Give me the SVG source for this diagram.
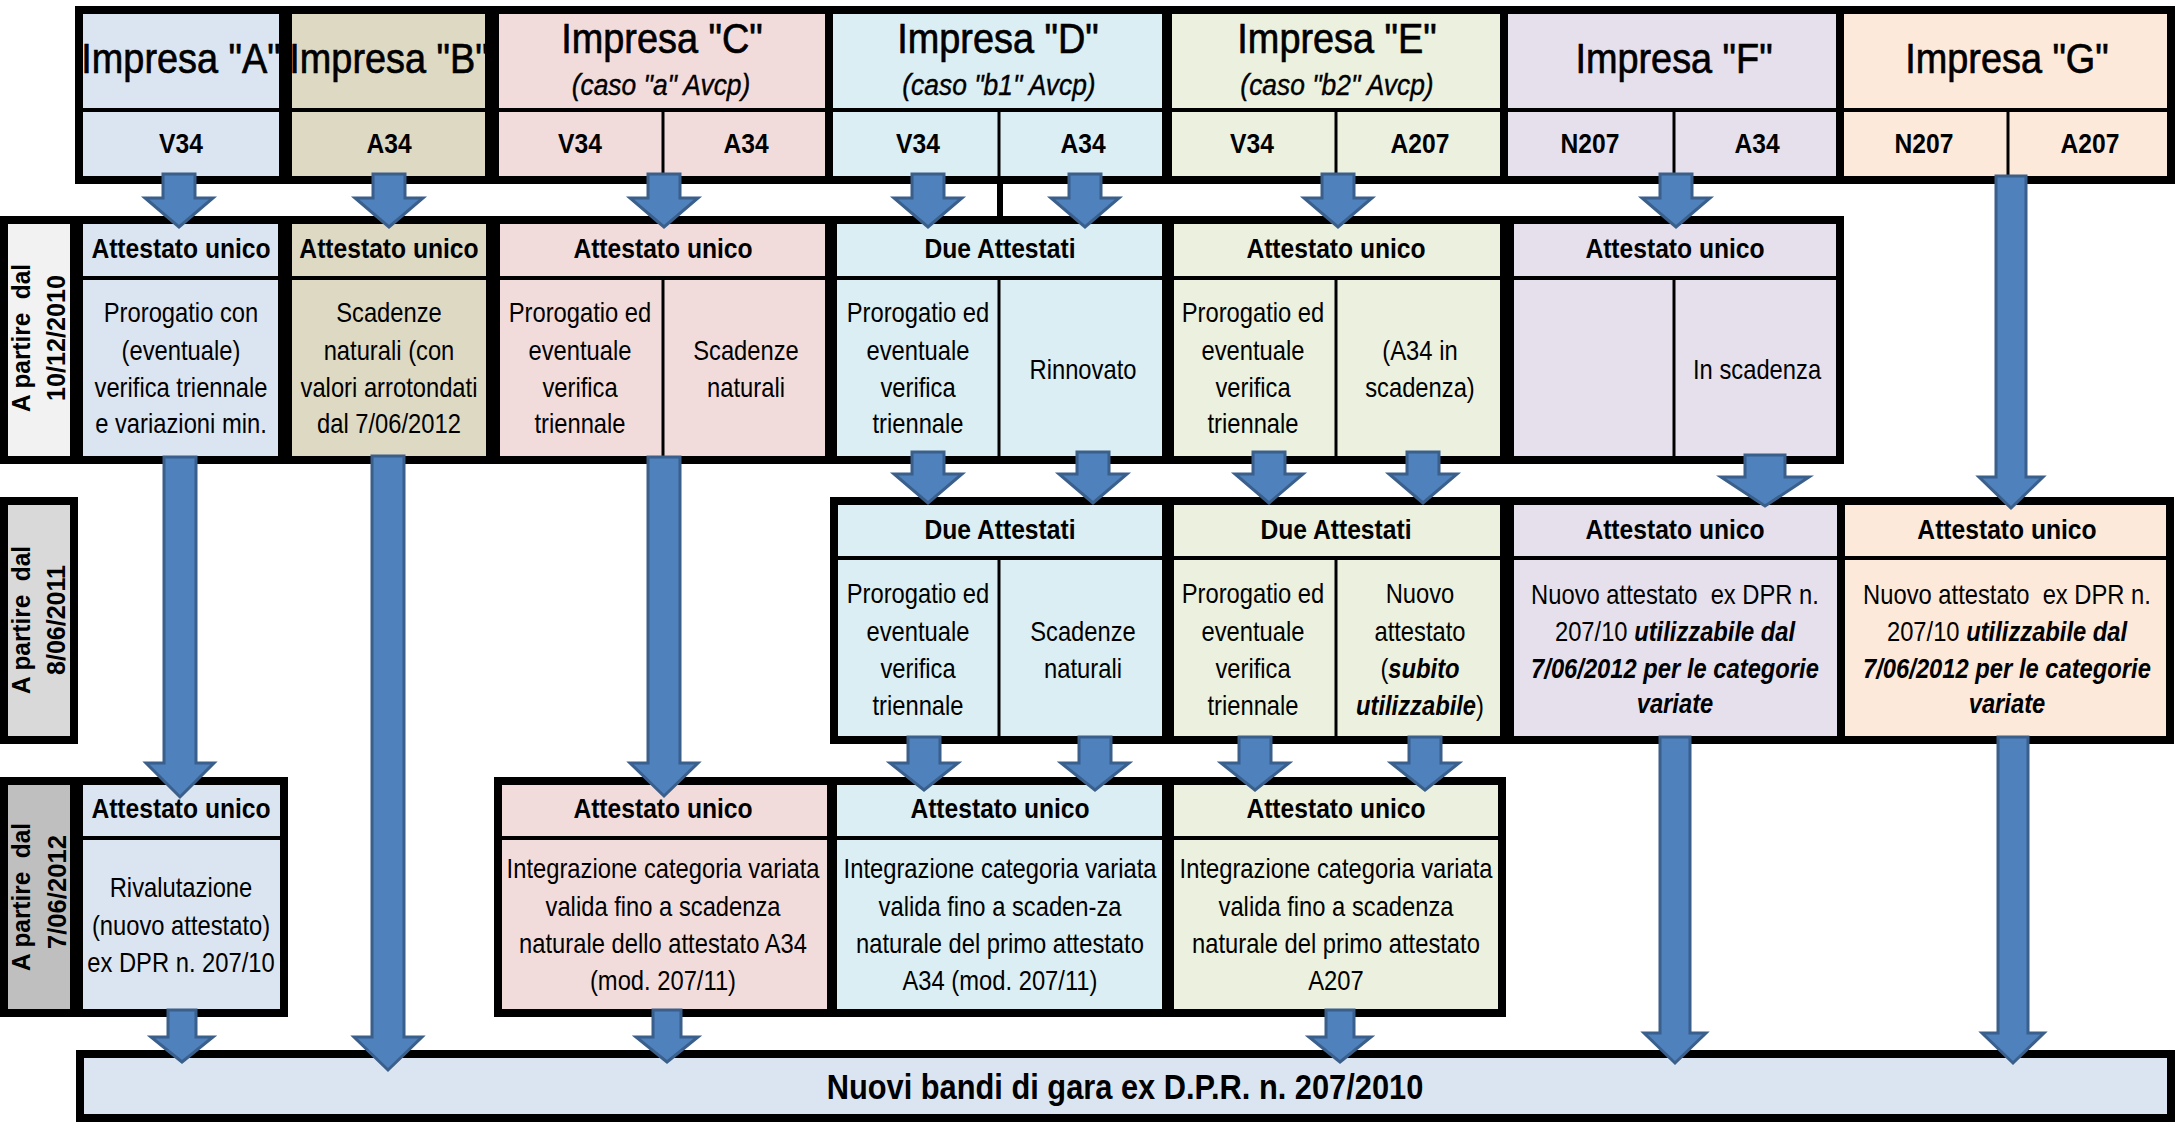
<svg xmlns="http://www.w3.org/2000/svg" width="2183" height="1122" viewBox="0 0 2183 1122">
<style>
.t{font-family:"Liberation Sans",Arial,sans-serif;fill:#000;text-anchor:middle;transform-box:fill-box;transform-origin:center;transform:scaleX(.88)}
.title{font-size:43px;stroke:#000;stroke-width:0.7}
.sub{font-size:30px;font-style:italic;stroke:#000;stroke-width:0.4}
.code{font-size:28px;font-weight:bold}
.hd{font-size:28px;font-weight:bold}
.bd{font-size:27px}
.bi{font-weight:bold;font-style:italic}
.lab{font-family:"Liberation Sans",Arial,sans-serif;font-size:26px;font-weight:bold;fill:#000;text-anchor:middle}
.box{stroke:#000;stroke-width:8}
.sep{stroke:#000;stroke-width:4}
.spl{stroke:#000;stroke-width:3}
.arr{fill:#4f81bd;stroke:#3a5f8b;stroke-width:3}
.cA{fill:#dbe5f1}.cB{fill:#ddd9c3}.cC{fill:#f2dcdb}.cD{fill:#daeef3}.cE{fill:#ebf1de}.cF{fill:#e5e0ec}.cG{fill:#fde9d9}
</style>
<rect width="2183" height="1122" fill="#fff"/>

<!-- Headers -->
<g id="impresa-a">
<rect x="79" y="10" width="204" height="170" class="box cA"/>
<line x1="79" y1="110" x2="283" y2="110" class="sep"/>
<text class="t title" x="181" y="73">Impresa "A"</text>
<text class="t code" x="181" y="153">V34</text>
</g>
<g id="impresa-b">
<rect x="288" y="10" width="201" height="170" class="box cB"/>
<line x1="288" y1="110" x2="489" y2="110" class="sep"/>
<text class="t title" x="389" y="73">Impresa "B"</text>
<text class="t code" x="389" y="153">A34</text>
</g>
<g id="impresa-c">
<rect x="495" y="10" width="334" height="170" class="box cC"/>
<line x1="495" y1="110" x2="829" y2="110" class="sep"/>
<line x1="663" y1="110" x2="663" y2="180" class="spl"/>
<text class="t title" x="662" y="53">Impresa "C"</text>
<text class="t sub" x="661" y="95">(caso "a" Avcp)</text>
<text class="t code" x="580" y="153">V34</text>
<text class="t code" x="746" y="153">A34</text>
</g>
<g id="impresa-d">
<rect x="829" y="10" width="337" height="170" class="box cD"/>
<line x1="829" y1="110" x2="1166" y2="110" class="sep"/>
<line x1="999" y1="110" x2="999" y2="180" class="spl"/>
<text class="t title" x="998" y="53">Impresa "D"</text>
<text class="t sub" x="999" y="95">(caso "b1" Avcp)</text>
<text class="t code" x="918" y="153">V34</text>
<text class="t code" x="1083" y="153">A34</text>
</g>
<g id="impresa-e">
<rect x="1168" y="10" width="336" height="170" class="box cE"/>
<line x1="1168" y1="110" x2="1504" y2="110" class="sep"/>
<line x1="1336" y1="110" x2="1336" y2="180" class="spl"/>
<text class="t title" x="1337" y="53">Impresa "E"</text>
<text class="t sub" x="1337" y="95">(caso "b2" Avcp)</text>
<text class="t code" x="1252" y="153">V34</text>
<text class="t code" x="1420" y="153">A207</text>
</g>
<g id="impresa-f">
<rect x="1504" y="10" width="336" height="170" class="box cF"/>
<line x1="1504" y1="110" x2="1840" y2="110" class="sep"/>
<line x1="1674" y1="110" x2="1674" y2="180" class="spl"/>
<text class="t title" x="1674" y="73">Impresa "F"</text>
<text class="t code" x="1590" y="153">N207</text>
<text class="t code" x="1757" y="153">A34</text>
</g>
<g id="impresa-g">
<rect x="1840" y="10" width="331" height="170" class="box cG"/>
<line x1="1840" y1="110" x2="2171" y2="110" class="sep"/>
<line x1="2008" y1="110" x2="2008" y2="180" class="spl"/>
<text class="t title" x="2007" y="73">Impresa "G"</text>
<text class="t code" x="1924" y="153">N207</text>
<text class="t code" x="2090" y="153">A207</text>
</g>

<!-- Row labels -->
<g id="label-2010">
<rect x="4" y="220" width="70" height="240" class="box" fill="#f2f2f2"/>
<text class="lab" transform="translate(30,338) rotate(-90)" textLength="148" lengthAdjust="spacingAndGlyphs" xml:space="preserve">A partire  dal</text>
<text class="lab" transform="translate(65,338) rotate(-90)" textLength="126" lengthAdjust="spacingAndGlyphs">10/12/2010</text>
</g>
<g id="label-2011">
<rect x="4" y="501" width="70" height="239" class="box" fill="#d9d9d9"/>
<text class="lab" transform="translate(30,620) rotate(-90)" textLength="148" lengthAdjust="spacingAndGlyphs" xml:space="preserve">A partire  dal</text>
<text class="lab" transform="translate(65,620) rotate(-90)" textLength="110" lengthAdjust="spacingAndGlyphs">8/06/2011</text>
</g>
<g id="label-2012">
<rect x="4" y="781" width="70" height="232" class="box" fill="#bfbfbf"/>
<text class="lab" transform="translate(30,897) rotate(-90)" textLength="148" lengthAdjust="spacingAndGlyphs" xml:space="preserve">A partire  dal</text>
<text class="lab" transform="translate(66,892) rotate(-90)" textLength="114" lengthAdjust="spacingAndGlyphs">7/06/2012</text>
</g>

<!-- Row 1 -->
<g id="a-2010">
<rect x="79" y="220" width="203" height="240" class="box cA"/>
<line x1="79" y1="278" x2="282" y2="278" class="sep"/>
<text class="t hd" x="181" y="258">Attestato unico</text>
<text class="t bd" x="181" y="322">Prorogatio con</text>
<text class="t bd" x="181" y="360">(eventuale)</text>
<text class="t bd" x="181" y="397">verifica triennale</text>
<text class="t bd" x="181" y="433">e variazioni min.</text>
</g>
<g id="b-2010">
<rect x="288" y="220" width="202" height="240" class="box cB"/>
<line x1="288" y1="278" x2="490" y2="278" class="sep"/>
<text class="t hd" x="389" y="258">Attestato unico</text>
<text class="t bd" x="389" y="322">Scadenze</text>
<text class="t bd" x="389" y="360">naturali (con</text>
<text class="t bd" x="389" y="397">valori arrotondati</text>
<text class="t bd" x="389" y="433">dal 7/06/2012</text>
</g>
<g id="c-2010">
<rect x="496" y="220" width="333" height="240" class="box cC"/>
<line x1="496" y1="278" x2="829" y2="278" class="sep"/>
<line x1="663" y1="278" x2="663" y2="460" class="spl"/>
<text class="t hd" x="663" y="258">Attestato unico</text>
<text class="t bd" x="580" y="322">Prorogatio ed</text>
<text class="t bd" x="580" y="360">eventuale</text>
<text class="t bd" x="580" y="397">verifica</text>
<text class="t bd" x="580" y="433">triennale</text>
<text class="t bd" x="746" y="360">Scadenze</text>
<text class="t bd" x="746" y="397">naturali</text>
</g>
<g id="d-2010">
<rect x="833" y="220" width="333" height="240" class="box cD"/>
<line x1="833" y1="278" x2="1166" y2="278" class="sep"/>
<line x1="999" y1="278" x2="999" y2="460" class="spl"/>
<text class="t hd" x="1000" y="258">Due Attestati</text>
<text class="t bd" x="918" y="322">Prorogatio ed</text>
<text class="t bd" x="918" y="360">eventuale</text>
<text class="t bd" x="918" y="397">verifica</text>
<text class="t bd" x="918" y="433">triennale</text>
<text class="t bd" x="1083" y="379">Rinnovato</text>
</g>
<g id="e-2010">
<rect x="1170" y="220" width="334" height="240" class="box cE"/>
<line x1="1170" y1="278" x2="1504" y2="278" class="sep"/>
<line x1="1336" y1="278" x2="1336" y2="460" class="spl"/>
<text class="t hd" x="1336" y="258">Attestato unico</text>
<text class="t bd" x="1253" y="322">Prorogatio ed</text>
<text class="t bd" x="1253" y="360">eventuale</text>
<text class="t bd" x="1253" y="397">verifica</text>
<text class="t bd" x="1253" y="433">triennale</text>
<text class="t bd" x="1420" y="360">(A34 in</text>
<text class="t bd" x="1420" y="397">scadenza)</text>
</g>
<g id="f-2010">
<rect x="1510" y="220" width="330" height="240" class="box cF"/>
<line x1="1510" y1="278" x2="1840" y2="278" class="sep"/>
<line x1="1674" y1="278" x2="1674" y2="460" class="spl"/>
<text class="t hd" x="1675" y="258">Attestato unico</text>
<text class="t bd" x="1757" y="379">In scadenza</text>
</g>

<!-- Row 2 -->
<g id="d-2011">
<rect x="834" y="501" width="332" height="239" class="box cD"/>
<line x1="834" y1="558" x2="1166" y2="558" class="sep"/>
<line x1="999" y1="558" x2="999" y2="740" class="spl"/>
<text class="t hd" x="1000" y="539">Due Attestati</text>
<text class="t bd" x="918" y="603">Prorogatio ed</text>
<text class="t bd" x="918" y="641">eventuale</text>
<text class="t bd" x="918" y="678">verifica</text>
<text class="t bd" x="918" y="715">triennale</text>
<text class="t bd" x="1083" y="641">Scadenze</text>
<text class="t bd" x="1083" y="678">naturali</text>
</g>
<g id="e-2011">
<rect x="1170" y="501" width="334" height="239" class="box cE"/>
<line x1="1170" y1="558" x2="1504" y2="558" class="sep"/>
<line x1="1336" y1="558" x2="1336" y2="740" class="spl"/>
<text class="t hd" x="1336" y="539">Due Attestati</text>
<text class="t bd" x="1253" y="603">Prorogatio ed</text>
<text class="t bd" x="1253" y="641">eventuale</text>
<text class="t bd" x="1253" y="678">verifica</text>
<text class="t bd" x="1253" y="715">triennale</text>
<text class="t bd" x="1420" y="603">Nuovo</text>
<text class="t bd" x="1420" y="641">attestato</text>
<text class="t bd" x="1420" y="678">(<tspan class="bi">subito</tspan></text>
<text class="t bd" x="1420" y="715"><tspan class="bi">utilizzabile</tspan>)</text>
</g>
<g id="f-2011">
<rect x="1510" y="501" width="331" height="239" class="box cF"/>
<line x1="1510" y1="558" x2="1841" y2="558" class="sep"/>
<text class="t hd" x="1675" y="539">Attestato unico</text>
<text class="t bd" x="1675" y="604" xml:space="preserve">Nuovo attestato  ex DPR n.</text>
<text class="t bd" x="1675" y="641">207/10 <tspan class="bi">utilizzabile dal</tspan></text>
<text class="t bd bi" x="1675" y="678">7/06/2012 per le categorie</text>
<text class="t bd bi" x="1675" y="713">variate</text>
</g>
<g id="g-2011">
<rect x="1841" y="501" width="329" height="239" class="box cG"/>
<line x1="1841" y1="558" x2="2170" y2="558" class="sep"/>
<text class="t hd" x="2007" y="539">Attestato unico</text>
<text class="t bd" x="2007" y="604" xml:space="preserve">Nuovo attestato  ex DPR n.</text>
<text class="t bd" x="2007" y="641">207/10 <tspan class="bi">utilizzabile dal</tspan></text>
<text class="t bd bi" x="2007" y="678">7/06/2012 per le categorie</text>
<text class="t bd bi" x="2007" y="713">variate</text>
</g>

<!-- Row 3 -->
<g id="a-2012">
<rect x="79" y="781" width="205" height="232" class="box cA"/>
<line x1="79" y1="838" x2="284" y2="838" class="sep"/>
<text class="t hd" x="181" y="818">Attestato unico</text>
<text class="t bd" x="181" y="897">Rivalutazione</text>
<text class="t bd" x="181" y="935">(nuovo attestato)</text>
<text class="t bd" x="181" y="972">ex DPR n. 207/10</text>
</g>
<g id="c-2012">
<rect x="498" y="781" width="333" height="232" class="box cC"/>
<line x1="498" y1="838" x2="831" y2="838" class="sep"/>
<text class="t hd" x="663" y="818">Attestato unico</text>
<text class="t bd" x="663" y="878">Integrazione categoria variata</text>
<text class="t bd" x="663" y="916">valida fino a scadenza</text>
<text class="t bd" x="663" y="953">naturale dello attestato A34</text>
<text class="t bd" x="663" y="990">(mod. 207/11)</text>
</g>
<g id="d-2012">
<rect x="833" y="781" width="333" height="232" class="box cD"/>
<line x1="833" y1="838" x2="1166" y2="838" class="sep"/>
<text class="t hd" x="1000" y="818">Attestato unico</text>
<text class="t bd" x="1000" y="878">Integrazione categoria variata</text>
<text class="t bd" x="1000" y="916">valida fino a scaden-za</text>
<text class="t bd" x="1000" y="953">naturale del primo attestato</text>
<text class="t bd" x="1000" y="990">A34 (mod. 207/11)</text>
</g>
<g id="e-2012">
<rect x="1170" y="781" width="332" height="232" class="box cE"/>
<line x1="1170" y1="838" x2="1502" y2="838" class="sep"/>
<text class="t hd" x="1336" y="818">Attestato unico</text>
<text class="t bd" x="1336" y="878">Integrazione categoria variata</text>
<text class="t bd" x="1336" y="916">valida fino a scadenza</text>
<text class="t bd" x="1336" y="953">naturale del primo attestato</text>
<text class="t bd" x="1336" y="990">A207</text>
</g>

<!-- Bottom bar -->
<g id="nuovi-bandi">
<rect x="80" y="1054" width="2091" height="64" class="box cA"/>
<text class="t" x="1125" y="1099" font-size="35" font-weight="bold">Nuovi bandi di gara ex D.P.R. n. 207/2010</text>
</g>

<!-- Connectors -->
<g id="connectors">
<line x1="1000" y1="180" x2="1000" y2="220" stroke="#000" stroke-width="6"/>
<g class="arr">
<path d="M163,174 H195 V198 H213 L179,227 L145,198 H163 Z"/>
<path d="M373,174 H405 V198 H423 L389,227 L355,198 H373 Z"/>
<path d="M648,174 H680 V198 H698 L664,227 L630,198 H648 Z"/>
<path d="M912,174 H944 V198 H962 L928,227 L894,198 H912 Z"/>
<path d="M1069,174 H1101 V198 H1119 L1085,227 L1051,198 H1069 Z"/>
<path d="M1322,174 H1354 V198 H1372 L1338,227 L1304,198 H1322 Z"/>
<path d="M1660,174 H1692 V198 H1710 L1676,227 L1642,198 H1660 Z"/>
<path d="M1996,176 H2026 V477 H2043 L2011,508 L1979,477 H1996 Z"/>
<path d="M912,452 H944 V474 H962 L928,503 L894,474 H912 Z"/>
<path d="M1077,452 H1109 V474 H1127 L1093,503 L1059,474 H1077 Z"/>
<path d="M1253,452 H1285 V474 H1303 L1269,503 L1235,474 H1253 Z"/>
<path d="M1407,452 H1439 V474 H1457 L1423,503 L1389,474 H1407 Z"/>
<path d="M1745,455 H1785 V477 H1809 L1765,506 L1721,477 H1745 Z"/>
<path d="M908,737 H940 V763 H958 L924,790 L890,763 H908 Z"/>
<path d="M1079,737 H1111 V763 H1129 L1095,790 L1061,763 H1079 Z"/>
<path d="M1239,737 H1271 V763 H1289 L1255,790 L1221,763 H1239 Z"/>
<path d="M1409,737 H1441 V763 H1459 L1425,790 L1391,763 H1409 Z"/>
<path d="M164,457 H196 V763 H214 L180,797 L146,763 H164 Z"/>
<path d="M648,457 H680 V763 H698 L664,796 L630,763 H648 Z"/>
<path d="M372,456 H404 V1037 H422 L388,1070 L354,1037 H372 Z"/>
<path d="M1660,737 H1690 V1033 H1706 L1675,1063 L1644,1033 H1660 Z"/>
<path d="M1998,737 H2028 V1033 H2044 L2013,1063 L1982,1033 H1998 Z"/>
<path d="M168,1010 H196 V1037 H213 L182,1062 L151,1037 H168 Z"/>
<path d="M653,1010 H681 V1037 H698 L667,1062 L636,1037 H653 Z"/>
<path d="M1326,1010 H1354 V1037 H1371 L1340,1062 L1309,1037 H1326 Z"/>
</g>
</g>
</svg>
